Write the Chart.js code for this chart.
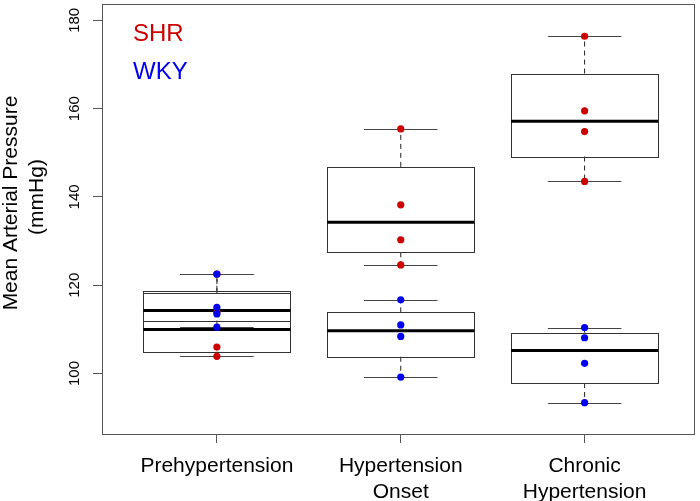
<!DOCTYPE html>
<html>
<head>
<meta charset="utf-8">
<script src="https://cdn.jsdelivr.net/npm/chart.js@4"></script>
<style>
  html, body { margin: 0; padding: 0; background: #fff; }
</style>
</head>
<body>
<canvas id="chart" width="700" height="501"></canvas>
<script>
// stage names (multi-line tick labels)
const categories = [["Prehypertension"], ["Hypertension", "Onset"], ["Chronic", "Hypertension"]];
// individual animals, mmHg, one array per stage
const shrValues = [
  [103.9, 106.0, 113.9, 122.5],
  [124.6, 130.3, 138.2, 155.4],
  [143.5, 154.8, 159.5, 176.4],
];
const wkyValues = [
  [110.5, 113.5, 115.0, 122.5],
  [99.2, 108.4, 111.0, 116.7],
  [93.4, 102.3, 108.1, 110.4],
];
const yTicks = [100, 120, 140, 160, 180];
const xTicks = [1, 2, 3];

const SHR_COLOR = "#cd0000";
const WKY_COLOR = "#0000ee";
const FONT = "'Liberation Sans', Arial, Helvetica, sans-serif";

// same as R's fivenum + 1.5 IQR whiskers
function boxStats(vals) {
  const s = [...vals].sort((a, b) => a - b);
  const n = s.length;
  const n4 = Math.floor((n + 3) / 2) / 2;
  const d = [1, n4, (n + 1) / 2, n + 1 - n4, n];
  const f = d.map((k) => 0.5 * (s[Math.floor(k) - 1] + s[Math.ceil(k) - 1]));
  const iqr = f[3] - f[1];
  const lo = Math.min(...s.filter((v) => v >= f[1] - 1.5 * iqr));
  const hi = Math.max(...s.filter((v) => v <= f[3] + 1.5 * iqr));
  return [lo, f[1], f[2], f[3], hi];
}

function toPoints(group) {
  const pts = [];
  group.forEach((vals, i) => vals.forEach((v) => pts.push({ x: i + 1, y: v })));
  return pts;
}

const boxPlugin = {
  id: "boxes",
  beforeDatasetsDraw(chart) {
    const { ctx } = chart;
    const x = chart.scales.x;
    const y = chart.scales.y;
    const unit = x.getPixelForValue(1) - x.getPixelForValue(0);
    const half = unit * 0.4;
    const cap = unit * 0.2;
    ctx.save();
    [shrValues, wkyValues].forEach((group) => {
      group.forEach((vals, i) => {
        const [lo, q1, med, q3, hi] = boxStats(vals);
        const cx = x.getPixelForValue(i + 1);
        // whiskers
        ctx.strokeStyle = "#222";
        ctx.lineWidth = 1;
        ctx.setLineDash([5, 4]);
        ctx.beginPath();
        ctx.moveTo(cx, y.getPixelForValue(q3));
        ctx.lineTo(cx, y.getPixelForValue(hi));
        ctx.moveTo(cx, y.getPixelForValue(q1));
        ctx.lineTo(cx, y.getPixelForValue(lo));
        ctx.stroke();
        ctx.setLineDash([]);
        // staples
        ctx.strokeStyle = "#444";
        ctx.beginPath();
        [lo, hi].forEach((v) => {
          const py = Math.round(y.getPixelForValue(v)) + 0.5;
          ctx.moveTo(cx - cap, py);
          ctx.lineTo(cx + cap, py);
        });
        ctx.stroke();
        // box
        ctx.strokeStyle = "#333";
        const top = Math.round(y.getPixelForValue(q3)) + 0.5;
        const bot = Math.round(y.getPixelForValue(q1)) + 0.5;
        ctx.strokeRect(Math.round(cx - half) + 0.5, top, Math.round(half * 2), bot - top);
        // median
        ctx.strokeStyle = "#000";
        ctx.lineWidth = 3;
        ctx.beginPath();
        const my = y.getPixelForValue(med);
        ctx.moveTo(cx - half, my);
        ctx.lineTo(cx + half, my);
        ctx.stroke();
      });
    });
    ctx.restore();
  },
  afterDraw(chart) {
    const { ctx, chartArea } = chart;
    const y = chart.scales.y;
    ctx.save();
    // frame around the plot region
    ctx.strokeStyle = "#555";
    ctx.lineWidth = 1;
    ctx.strokeRect(chartArea.left + 0.5, chartArea.top + 0.5,
      chartArea.right - chartArea.left, chartArea.bottom - chartArea.top);

    // y tick labels, vertical like R
    ctx.fillStyle = "#000";
    ctx.font = "15px " + FONT;
    ctx.textAlign = "center";
    ctx.textBaseline = "alphabetic";
    yTicks.forEach((t) => {
      ctx.save();
      ctx.translate(chartArea.left - 23, y.getPixelForValue(t));
      ctx.rotate(-Math.PI / 2);
      ctx.fillText(String(t), 0, 0);
      ctx.restore();
    });

    // y axis title
    ctx.font = "21px " + FONT;
    ctx.save();
    ctx.translate(17, 203);
    ctx.rotate(-Math.PI / 2);
    ctx.fillText("Mean Arterial Pressure", 0, 0);
    ctx.restore();
    ctx.save();
    ctx.translate(43, 197);
    ctx.rotate(-Math.PI / 2);
    ctx.fillText("(mmHg)", 0, 0);
    ctx.restore();

    // text legend, top left inside the plot
    ctx.font = "24px " + FONT;
    ctx.textAlign = "left";
    const legendOrder = [1, 0];
    legendOrder.forEach((di, k) => {
      const ds = chart.data.datasets[di];
      ctx.fillStyle = ds.backgroundColor;
      ctx.fillText(ds.label, chartArea.left + 31, chartArea.top + 37 + k * 38);
    });
    ctx.restore();
  },
};

new Chart(document.getElementById("chart"), {
  type: "scatter",
  data: {
    datasets: [
      {
        label: "WKY",
        data: toPoints(wkyValues),
        backgroundColor: WKY_COLOR,
        pointRadius: 3.6,
        pointBorderWidth: 0,
        order: 0,
      },
      {
        label: "SHR",
        data: toPoints(shrValues),
        backgroundColor: SHR_COLOR,
        pointRadius: 3.6,
        pointBorderWidth: 0,
        order: 1,
      },
    ],
  },
  options: {
    responsive: false,
    animation: false,
    devicePixelRatio: 1,
    events: [],
    layout: { padding: { top: 1, right: 6, left: 0, bottom: 0 } },
    plugins: { legend: { display: false }, tooltip: { enabled: false } },
    scales: {
      x: {
        type: "linear",
        min: 0.375,
        max: 3.595,
        afterBuildTicks: (s) => { s.ticks = xTicks.map((v) => ({ value: v })); },
        afterFit: (s) => { s.height = 67; },
        border: { display: false },
        grid: { drawOnChartArea: false, tickLength: 9, color: "#555" },
        ticks: {
          color: "#000",
          padding: 10,
          maxRotation: 0,
          font: { family: FONT, size: 21, lineHeight: 1.24 },
          callback: (v) => categories[v - 1],
        },
      },
      y: {
        type: "linear",
        min: 86.3,
        max: 183.7,
        afterBuildTicks: (s) => { s.ticks = yTicks.map((v) => ({ value: v })); },
        afterFit: (s) => { s.width = 102; },
        border: { display: false },
        grid: { drawOnChartArea: false, tickLength: 9, color: "#555" },
        ticks: { display: false },
      },
    },
  },
  plugins: [boxPlugin],
});
</script>
</body>
</html>
